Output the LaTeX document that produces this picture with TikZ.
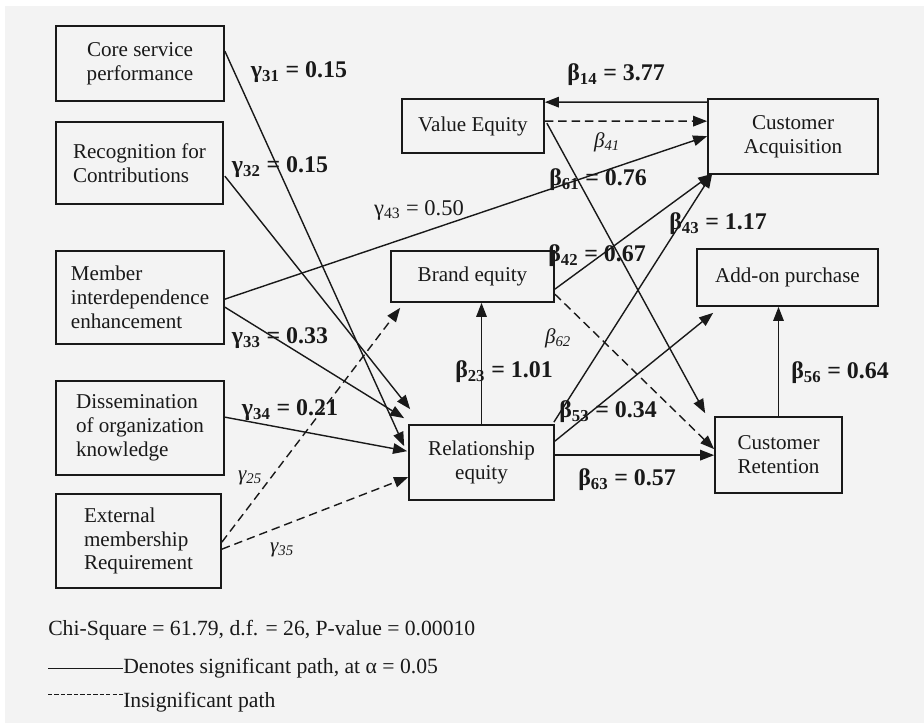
\documentclass[tikz,border=0pt]{standalone}
\usepackage{fontspec}
\setmainfont{Liberation Serif}
\usepackage{xcolor}
\usetikzlibrary{arrows.meta,positioning,calc}
\definecolor{paper}{RGB}{243,243,243}
\definecolor{ink}{RGB}{25,25,25}

\begin{document}
\begin{tikzpicture}[x=0.025cm, y=-0.025cm,
    box/.style={draw=ink, line width=1.2pt, inner sep=2pt, text=ink, font=\fontsize{15}{17}\selectfont},
    coef/.style={text=ink, font=\fontsize{17}{20}\selectfont\bfseries},
    coefns/.style={text=ink, font=\fontsize{15}{18}\selectfont\itshape},
    coefrg/.style={text=ink, font=\fontsize{16}{19}\selectfont},
    sig/.style={-{Triangle[length=10pt,width=7.5pt]}, draw=ink, line width=1pt},
    insig/.style={sig, dash pattern=on 6pt off 3.5pt},
    legend/.style={anchor=base west, inner sep=0pt, text=ink, font=\fontsize{15.4}{18}\selectfont}
]
    % Page and background
    \useasboundingbox (0,0) rectangle (924,723);
    \fill[white] (0,0) rectangle (924,723);
    \fill[paper] (5,6) rectangle (924,723);

    % Exogenous constructs (left column)
    \node[box, minimum width=4.2cm, minimum height=1.875cm, align=center] (core) at (140,63.5) {Core service\\performance};
    \node[box, minimum width=4.175cm, minimum height=2.05cm, align=left] (recog) at (139.5,163) {Recognition for\\Contributions};
    \node[box, minimum width=4.2cm, minimum height=2.325cm, align=left] (member) at (140,297.5) {Member\\interdependence\\enhancement};
    \node[box, minimum width=4.2cm, minimum height=2.35cm, align=left] (dissem) at (140,428) {Dissemination\\of organization\\knowledge};
    \node[box, minimum width=4.125cm, minimum height=2.35cm, align=left] (extern) at (138.5,541) {External\\membership\\Requirement};

    % Equity constructs and outcomes
    \node[box, minimum width=3.55cm, minimum height=1.35cm] (value) at (473,126) {Value Equity};
    \node[box, minimum width=4.075cm, minimum height=1.275cm] (brand) at (472.5,276.5) {Brand equity};
    \node[box, minimum width=3.625cm, minimum height=1.875cm, align=center] (rel) at (481.5,462.5) {Relationship\\equity};
    \node[box, minimum width=4.25cm, minimum height=1.875cm, align=center] (acq) at (793,136.5) {Customer\\Acquisition};
    \node[box, minimum width=4.525cm, minimum height=1.425cm] (addon) at (787.5,277.5) {Add-on purchase};
    \node[box, minimum width=3.175cm, minimum height=1.9cm, align=center] (ret) at (778.5,455) {Customer\\Retention};

    % Paths into relationship equity
    \draw[sig] ($(core.north east)+(0,26)$) -- ($(rel.north west)+(-4,22)$);
    \draw[sig] ($(recog.north east)+(1,55)$) -- ($(rel.north west)+(2,-15)$);
    \draw[sig] ($(member.north east)+(0,57)$) -- ($(rel.north west)+(-4,-6)$);
    \draw[sig] ($(dissem.north east)+(0,37)$) -- ($(rel.north west)+(-1,27)$);
    \draw[insig] ($(extern.north east)+(0,56)$) -- ($(rel.north west)+(0,53)$);
    \draw[insig] ($(extern.north east)+(0,49)$) -- ($(brand.south west)+(10,5)$);
    \draw[sig] ($(member.north east)+(0,49)$) -- ($(acq.north west)+(0,38)$);

    % Paths among equities and outcomes
    \draw[sig] ($(acq.north west)+(0,4)$) -- ($(value.north east)+(0,4)$);
    \draw[insig] ($(value.north east)+(0,23)$) -- ($(acq.north west)+(0,23)$);
    \draw[sig] ($(value.north east)+(2,25)$) -- ($(ret.north west)+(-9,-3)$);
    \draw[sig] ($(brand.north east)+(0,39)$) -- ($(acq.south west)+(5,-1)$);
    \draw[sig] ($(rel.north east)+(-1,-2)$) -- ($(acq.south west)+(5,-1)$);
    \draw[sig] ($(rel.north east)+(0,17)$) -- ($(addon.south west)+(17,6)$);
    \draw[insig] ($(brand.north east)+(0,44)$) -- ($(ret.north west)+(0,33)$);
    \draw[sig] ($(rel.north east)+(0,31)$) -- ($(ret.north west)+(0,39)$);
    \draw[sig] (rel.north) -- (rel.north |- brand.south);
    \draw[sig] (ret.north) -- (ret.north |- addon.south);

    % Coefficients
    \node[coef] (g31) at (299,72) {γ\textsubscript{31} = 0.15};
    \node[coef] (g32) at (280,167) {γ\textsubscript{32} = 0.15};
    \node[coefrg] (g43) at (419,210) {γ\textsubscript{43} = 0.50};
    \node[coef] (g33) at (280,338) {γ\textsubscript{33} = 0.33};
    \node[coef] (g34) at (290,410) {γ\textsubscript{34} = 0.21};
    \node[coefns] (g25) at (250,478) {γ\textsubscript{25}};
    \node[coefns] (g35) at (282,550) {γ\textsubscript{35}};
    \node[coef] (b14) at (616,75) {β\textsubscript{14} = 3.77};
    \node[coefns] (b41) at (607,142) {β\textsubscript{41}};
    \node[coef] (b61) at (598,180) {β\textsubscript{61} = 0.76};
    \node[coef] (b43) at (718,224) {β\textsubscript{43} = 1.17};
    \node[coef] (b42) at (597,256) {β\textsubscript{42} = 0.67};
    \node[coefns] (b62) at (558,338) {β\textsubscript{62}};
    \node[coef] (b23) at (504,372) {β\textsubscript{23} = 1.01};
    \node[coef] (b56) at (840,373) {β\textsubscript{56} = 0.64};
    \node[coef] (b53) at (608,412) {β\textsubscript{53} = 0.34};
    \node[coef] (b63) at (627,480) {β\textsubscript{63} = 0.57};

    % Fit statistics and legend
    \node[legend] (chisq) at (48,635) {Chi-Square = 61.79, d.f. = 26, P-value = 0.00010};
    \node[legend] (sigtxt) at (123,673) {Denotes significant path, at α = 0.05};
    \node[legend] (insigtxt) at (123,707) {Insignificant path};
    \coordinate (siga) at (48,668);
    \coordinate (insiga) at (48,694);
    \draw[ink, line width=0.7pt] (siga) -- (siga -| sigtxt.west);
    \draw[ink, line width=0.7pt, dash pattern=on 3pt off 1.6pt] (insiga) -- (insiga -| insigtxt.west);
\end{tikzpicture}
\end{document}
